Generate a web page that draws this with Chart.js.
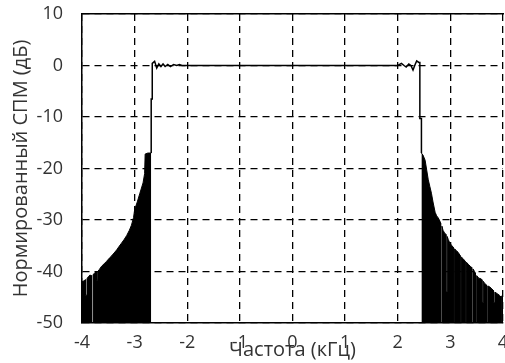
<!DOCTYPE html>
<html>
<head>
<meta charset="utf-8">
<script src="https://cdn.jsdelivr.net/npm/chart.js@4.4.1/dist/chart.umd.min.js"></script>
<style>
  body { margin: 0; background: #fff; }
</style>
</head>
<body>
<canvas id="psd" width="505" height="363"></canvas>
<script>
const leftFreq  = [-4.00, -3.96, -3.935, -3.935, -3.905, -3.905, -3.88, -3.85, -3.82, -3.82, -3.79, -3.79, -3.76, -3.73, -3.72, -3.72, -3.70, -3.70,
                   -3.67, -3.63, -3.58, -3.53, -3.48, -3.44, -3.39, -3.34, -3.30, -3.25, -3.20, -3.15, -3.10, -3.06, -3.02, -3.00, -2.95, -2.90,
                   -2.84, -2.81, -2.80, -2.75, -2.685];
const leftLevel = [-42, -41.8, -41.6, -44.6, -44.6, -41.4, -41, -40.7, -40.8, -50, -50, -40.6, -40.3, -40.1, -40.1, -41.7, -41.7, -40,
                   -39.6, -39, -38.5, -38, -37.4, -37, -36.4, -35.8, -35.2, -34.5, -33.8, -33, -32, -31, -29.5, -28, -26.5, -24.8,
                   -22.8, -21, -17.2, -17, -17];

// passband with edge ripple
const passFreq  = [-2.685, -2.685, -2.665, -2.665, -2.62, -2.58, -2.54, -2.50, -2.46, -2.42, -2.37, -2.32, -2.26, -2.20, -2.15, -2.10,
                   2.00, 2.07, 2.12, 2.16, 2.21, 2.25, 2.29, 2.33, 2.36, 2.40, 2.42, 2.42, 2.45, 2.45];
const passLevel = [-17, -6.5, -6.5, 0.4, 0.8, -0.5, 0.3, -0.2, 0.3, -0.2, 0.2, -0.2, 0.2, 0, 0.2, 0,
                   0, 0.4, 0, -0.3, 0.3, 0, -0.9, 0.2, 0.9, 0.6, 0.6, -10.3, -10.3, -17];

// upper side lobes
const rightFreq  = [2.45, 2.48, 2.52, 2.55, 2.58, 2.61, 2.64, 2.67, 2.71, 2.74, 2.77, 2.80,
                    2.815, 2.815, 2.84, 2.84, 2.86, 2.89, 2.915, 2.915, 2.94, 2.94, 2.96, 2.99, 3.03,
                    3.055, 3.055, 3.08, 3.08, 3.12, 3.15,
                    3.185, 3.185, 3.21, 3.21, 3.25,
                    3.28, 3.28, 3.305, 3.305, 3.34, 3.38,
                    3.405, 3.405, 3.43, 3.43, 3.46,
                    3.475, 3.475, 3.50, 3.50, 3.54, 3.58,
                    3.60, 3.60, 3.625, 3.625, 3.65,
                    3.685, 3.685, 3.71, 3.71, 3.75, 3.79,
                    3.82, 3.82, 3.845, 3.845, 3.89, 3.93,
                    3.95, 3.95, 3.97, 3.97, 4.00];
const rightLevel = [-17, -17.4, -18.4, -20.3, -22.2, -23.5, -24.8, -26.5, -28.5, -29.2, -29.6, -30.2,
                    -30.6, -50, -50, -31.2, -32, -32.5, -32.8, -44, -44, -33.2, -33.8, -34.5, -35,
                    -35.3, -50, -50, -35.6, -36, -36.3,
                    -36.9, -50, -50, -37.2, -37.6,
                    -38, -50, -50, -38.2, -38.6, -39,
                    -39.2, -50, -50, -39.5, -40,
                    -40.3, -50, -50, -40.8, -41.3, -41.4,
                    -41.6, -46, -46, -41.9, -42.3,
                    -42.6, -50, -50, -42.8, -43, -43.4,
                    -43.7, -46, -46, -44, -44.3, -44.6,
                    -44.8, -50, -50, -44.8, -44.5];

const xTicks = [-4, -3, -2, -1, 0, 1, 2, 3, 4];
const yTicks = [-50, -40, -30, -20, -10, 0, 10];

const pts = (xs, ys) => xs.map((x, i) => ({x: x, y: ys[i]}));

const tickFont = {family: "'Open Sans', sans-serif", size: 18};
const titleFont = {family: "'Open Sans', sans-serif", size: 20};

new Chart(document.getElementById('psd'), {
  type: 'line',
  data: {
    datasets: [
      {data: pts(leftFreq, leftLevel), borderColor: '#000', backgroundColor: '#000', borderWidth: 1, fill: 'start'},
      {data: pts(passFreq, passLevel), borderColor: '#000', borderWidth: 1.5, fill: false},
      {data: pts(rightFreq, rightLevel), borderColor: '#000', backgroundColor: '#000', borderWidth: 1, fill: 'start'}
    ]
  },
  options: {
    responsive: false,
    animation: false,
    elements: {point: {radius: 0}, line: {tension: 0}},
    layout: {padding: {top: 14, right: 2, left: 0, bottom: 0}},
    plugins: {legend: {display: false}, tooltip: {enabled: false}},
    scales: {
      x: {
        type: 'linear',
        min: xTicks[0], max: xTicks[xTicks.length - 1],
        afterBuildTicks: s => { s.ticks = xTicks.map(v => ({value: v})); },
        afterFit: s => { s.height = 40; s.paddingLeft = 0; s.paddingRight = 0; },
        ticks: {font: tickFont, color: '#333', padding: 9, maxRotation: 0},
        grid: {color: '#000', lineWidth: 1.3, drawTicks: false},
        border: {color: '#000', width: 1.5, dash: [7, 5]},
        title: {display: true, text: 'Частота (кГц)', font: titleFont, color: '#333', padding: {top: 0, bottom: 1}}
      },
      xTop: {
        type: 'linear', position: 'top',
        min: xTicks[0], max: xTicks[xTicks.length - 1],
        afterFit: s => { s.height = 0; s.paddingLeft = 0; s.paddingRight = 0; },
        ticks: {display: false},
        grid: {display: false},
        border: {color: '#000', width: 1.5}
      },
      y: {
        min: yTicks[0], max: yTicks[yTicks.length - 1],
        afterBuildTicks: s => { s.ticks = yTicks.map(v => ({value: v})); },
        afterFit: s => { s.width = 82; s.paddingTop = 0; s.paddingBottom = 0; },
        ticks: {font: tickFont, color: '#333', padding: 19},
        grid: {color: '#000', lineWidth: 1.3, drawTicks: false},
        border: {color: '#000', width: 1.5, dash: [7, 5]},
        title: {display: true, text: 'Нормированный СПМ (дБ)', font: titleFont, color: '#333', padding: {top: 9, bottom: 0}}
      }
    }
  }
});
</script>
</body>
</html>
